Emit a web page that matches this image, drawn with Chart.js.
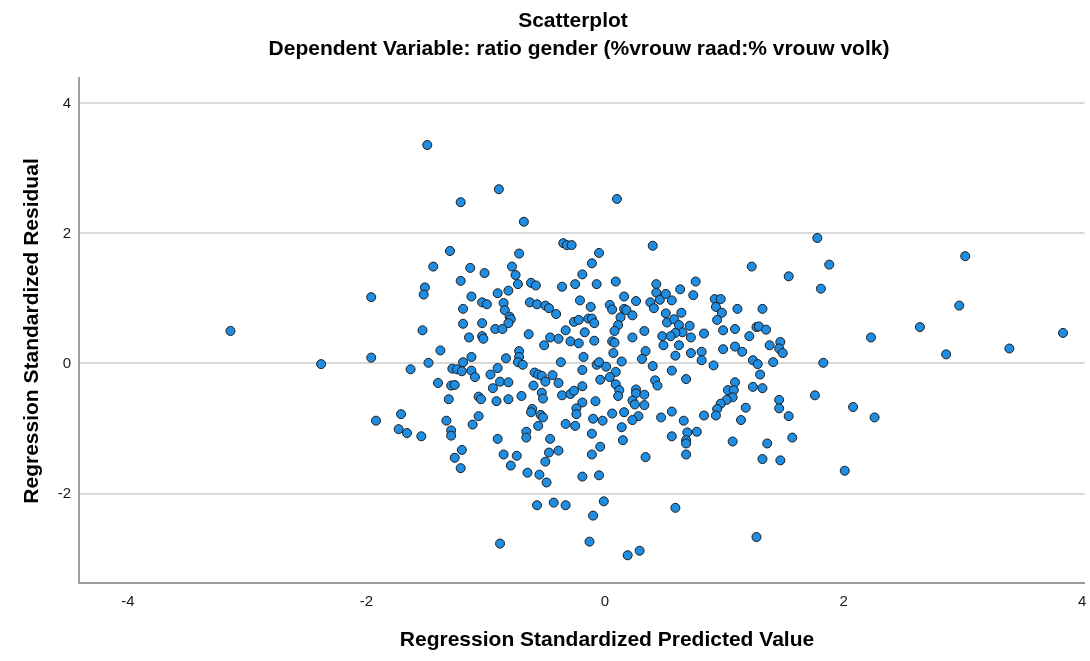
<!DOCTYPE html>
<html>
<head>
<meta charset="utf-8">
<script src="https://cdn.jsdelivr.net/npm/chart.js@4.4.0/dist/chart.umd.min.js"></script>
<style>
  html, body { margin: 0; padding: 0; background: #fff; }
  #wrap { width: 1090px; height: 661px; }
</style>
</head>
<body>
<div id="wrap"><canvas id="chart" width="1090" height="661"></canvas></div>
<script>
// values
const predicted = [
  -3.14, -2.38, -1.49, -1.21, -1.30, -1.44, -1.13, -1.01, -1.21, -1.51,
  -1.52, -1.96, -1.12, -1.03, -0.99, -1.19, -0.90, -1.53, -1.19, -1.03,
  -1.14, -1.03, -1.02, -0.92, -1.96, -1.38, -1.12, -1.19, -1.48, -1.63,
  -1.28, -1.24, -1.20, -1.12, -1.09, -0.96, -0.90, -1.40, -1.29, -1.26,
  -0.94, -1.31, -1.06, -1.04, -0.91, -1.71, -1.92, -1.33, -1.06, -1.11,
  -1.73, -1.66, -1.54, -1.29, -1.29, -0.90, -1.20, -1.26, -1.21, -0.88,
  -0.89, -0.68, 0.10, -0.35, -0.32, -0.28, -0.72, -0.05, -0.11, -0.78,
  -0.75, -0.19, -0.73, -0.62, -0.58, -0.36, -0.25, -0.07, 0.09, -0.81,
  0.16, -0.85, -0.63, -0.57, -0.50, -0.47, -0.41, -0.21, -0.12, 0.04,
  0.06, 0.16, -0.84, -0.80, -0.79, -0.81, -0.86, -0.64, -0.46, -0.33,
  -0.26, -0.22, -0.14, -0.11, -0.09, -0.17, 0.13, 0.11, 0.08, -0.39,
  -0.29, -0.22, -0.51, -0.09, 0.06, 0.08, -0.72, -0.72, -0.73, -0.69,
  -0.83, -0.37, -0.18, -0.07, -0.05, 0.07, 0.01, 0.14, -0.59, -0.56,
  -0.53, -0.44, -0.19, 0.09, 0.04, -0.04, -0.88, -0.81, -0.60, -0.50,
  -0.39, -0.19, 0.09, 0.12, 0.11, -0.53, -0.52, -0.70, -0.81, -0.36,
  -0.29, -0.26, -0.08, -0.19, -0.24, -0.24, -0.61, -0.62, -0.54, -0.52,
  -0.56, -0.10, -0.02, 0.06, 0.16, -0.33, -0.25, 0.14, -0.66, -0.66,
  -0.46, -0.11, 0.15, -0.85, -0.74, -0.79, -0.47, -0.39, -0.50, -0.04,
  -0.11, -0.65, -0.55, -0.49, -0.19, -0.05, -0.57, -0.43, -0.33, -0.01,
  -0.10, -0.13, 0.19, 0.29, 0.40, 1.23, 0.43, 0.43, 0.38, 0.41,
  0.46, 0.51, 0.63, 0.76, 0.74, 0.56, 0.26, 0.18, 0.23, 0.92,
  0.97, 0.93, 0.98, 0.94, 1.11, 0.51, 0.52, 0.58, 0.64, 0.62,
  0.71, 0.33, 0.65, 0.59, 0.83, 0.99, 1.09, 1.21, 0.48, 0.55,
  0.72, 0.23, 1.27, 0.49, 0.62, 0.59, 0.34, 0.31, 0.72, 0.81,
  0.81, 0.99, 1.09, 1.15, 0.40, 0.56, 0.91, 1.24, 0.42, 0.44,
  0.68, 0.26, 0.26, 0.33, 0.23, 0.25, 0.33, 1.09, 1.03, 1.08,
  1.07, 1.02, 0.97, 0.94, 0.93, 1.18, 1.24, 0.28, 0.23, 0.47,
  0.56, 0.66, 0.83, 1.14, 0.56, 0.69, 0.77, 0.68, 0.68, 1.07,
  0.34, 0.68, 0.59, 1.78, 1.88, 1.54, 1.81, 1.32, 1.29, 1.35,
  1.47, 1.38, 1.46, 1.49, 1.28, 1.41, 1.83, 1.30, 1.32, 1.76,
  1.46, 1.46, 1.54, 2.08, 1.57, 1.36, 1.32, 1.47, 2.01, 1.27,
  2.23, 2.64, 3.02, 2.97, 2.86, 3.39, 3.84, 2.26
];
const residual = [
  0.50, -0.01, 3.36, 2.48, 1.73, 1.49, 1.47, 1.39, 1.27, 1.17,
  1.06, 1.02, 1.03, 0.94, 0.91, 0.84, 1.08, 0.51, 0.61, 0.62,
  0.40, 0.42, 0.38, 0.53, 0.09, 0.20, 0.10, 0.02, 0.01, -0.09,
  -0.08, -0.09, -0.12, -0.11, -0.21, -0.17, -0.07, -0.30, -0.34, -0.33,
  -0.38, -0.55, -0.51, -0.55, -0.58, -0.78, -0.88, -0.88, -0.81, -0.94,
  -1.01, -1.07, -1.12, -1.03, -1.11, -1.16, -1.33, -1.45, -1.61, -2.77,
  2.68, 2.18, 2.53, 1.85, 1.82, 1.82, 1.69, 1.70, 1.54, 1.49,
  1.36, 1.37, 1.22, 1.24, 1.20, 1.18, 1.22, 1.22, 1.26, 1.12,
  1.03, 0.93, 0.94, 0.91, 0.89, 0.85, 0.76, 0.97, 0.87, 0.90,
  0.83, 0.84, 0.82, 0.72, 0.68, 0.62, 0.53, 0.45, 0.40, 0.51,
  0.64, 0.67, 0.69, 0.69, 0.62, 0.48, 0.71, 0.59, 0.50, 0.38,
  0.34, 0.31, 0.28, 0.35, 0.34, 0.32, 0.19, 0.10, 0.02, -0.02,
  0.08, 0.02, 0.10, -0.02, 0.02, 0.16, -0.05, 0.03, -0.14, -0.17,
  -0.19, -0.18, -0.10, -0.13, -0.21, -0.25, -0.28, -0.29, -0.34, -0.28,
  -0.30, -0.35, -0.32, -0.41, -0.50, -0.45, -0.54, -0.50, -0.55, -0.49,
  -0.47, -0.42, -0.58, -0.60, -0.69, -0.78, -0.70, -0.75, -0.79, -0.83,
  -0.96, -0.85, -0.88, -0.77, -0.75, -0.93, -0.96, -0.98, -1.05, -1.14,
  -1.16, -1.08, -1.18, -1.40, -1.42, -1.57, -1.37, -1.34, -1.51, -1.28,
  -1.40, -1.68, -1.71, -1.83, -1.74, -1.72, -2.18, -2.14, -2.18, -2.12,
  -2.34, -2.74, -2.95, -2.88, 1.81, 1.49, 1.22, 1.09, 0.94, 0.85,
  0.98, 1.07, 1.14, 1.26, 1.05, 0.97, 0.96, 0.82, 0.74, 0.99,
  0.99, 0.87, 0.78, 0.67, 0.84, 0.77, 0.63, 0.68, 0.78, 0.59,
  0.58, 0.50, 0.48, 0.47, 0.46, 0.51, 0.53, 0.42, 0.42, 0.42,
  0.40, 0.40, 0.56, 0.28, 0.28, 0.12, 0.19, 0.07, 0.16, 0.18,
  0.05, 0.22, 0.26, 0.18, -0.04, -0.11, -0.03, 0.05, -0.26, -0.34,
  -0.24, -0.40, -0.46, -0.48, -0.57, -0.63, -0.64, -0.29, -0.41, -0.41,
  -0.52, -0.56, -0.62, -0.70, -0.80, -0.68, -0.36, -0.81, -0.87, -0.83,
  -0.74, -0.88, -0.80, -0.87, -1.12, -1.06, -1.05, -1.18, -1.23, -1.20,
  -1.44, -1.40, -2.22, 1.93, 1.52, 1.34, 1.15, 0.84, 0.57, 0.52,
  0.33, 0.28, 0.23, 0.16, -0.01, 0.02, 0.01, -0.17, -0.38, -0.49,
  -0.56, -0.69, -0.81, -0.67, -1.14, -1.23, -1.47, -1.49, -1.65, -2.67,
  0.40, 0.56, 1.65, 0.89, 0.14, 0.23, 0.47, -0.83
];

const chartTitle = 'Scatterplot';
const chartSubtitle = 'Dependent Variable: ratio gender (%vrouw raad:% vrouw volk)';
const xTitle = 'Regression Standardized Predicted Value';
const yTitle = 'Regression Standardized Residual';

const FONT = '"Liberation Sans", Arial, sans-serif';

// SPSS puts the titles a bit off the plot centre, so draw them by hand
const titlesPlugin = {
  id: 'spssTitles',
  afterDraw(chart) {
    const ctx = chart.ctx;
    ctx.save();
    ctx.fillStyle = '#000';
    ctx.font = 'bold 21px ' + FONT;
    ctx.textAlign = 'center';
    ctx.textBaseline = 'alphabetic';
    ctx.fillText(chartTitle, 573, 27);
    ctx.fillText(chartSubtitle, 579, 55);
    ctx.fillText(xTitle, 607, 646);
    ctx.translate(38, 331);
    ctx.rotate(-Math.PI / 2);
    ctx.fillText(yTitle, 0, 0);
    ctx.restore();
  }
};

const points = predicted.map((x, i) => ({ x: x, y: residual[i] }));

const ctx = document.getElementById('chart').getContext('2d');
new Chart(ctx, {
  type: 'scatter',
  data: {
    datasets: [{
      data: points,
      backgroundColor: '#1e8de2',
      borderColor: '#1c1c1c',
      borderWidth: 1,
      pointRadius: 4.5,
      pointHoverRadius: 4.5
    }]
  },
  options: {
    responsive: false,
    animation: false,
    layout: { padding: { top: 78, left: 0, right: 0, bottom: 0 } },
    plugins: {
      legend: { display: false },
      tooltip: { enabled: false },
      title: { display: false }
    },
    scales: {
      x: {
        type: 'linear',
        min: -4.41,
        max: 4.02,
        grid: { display: false, drawTicks: false },
        border: { display: true, color: '#9a9a9a', width: 2 },
        ticks: {
          stepSize: 2,
          includeBounds: false,
          padding: 10,
          color: '#1a1a1a',
          font: { family: FONT, size: 15 }
        },
        afterFit(scale) {
          scale.height = 78.4;
          scale.paddingLeft = 0;
          scale.paddingRight = 0;
        }
      },
      y: {
        type: 'linear',
        min: -3.37,
        max: 4.39,
        grid: { color: '#d9d9d9', lineWidth: 2, drawTicks: false },
        border: { display: true, color: '#a0a0a0', width: 2 },
        ticks: {
          stepSize: 2,
          includeBounds: false,
          padding: 8,
          color: '#1a1a1a',
          font: { family: FONT, size: 15 }
        },
        afterFit(scale) {
          scale.width = 79;
          scale.paddingTop = 0;
          scale.paddingBottom = 0;
        }
      }
    }
  },
  plugins: [titlesPlugin]
});
</script>
</body>
</html>
